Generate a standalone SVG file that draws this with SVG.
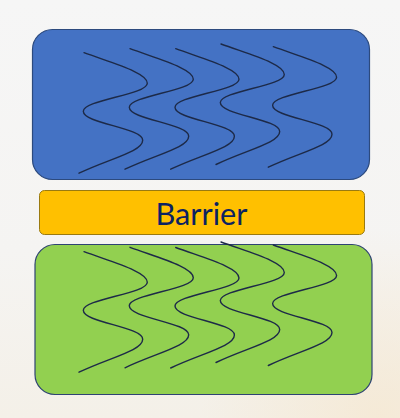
<svg xmlns="http://www.w3.org/2000/svg" xmlns:xlink="http://www.w3.org/1999/xlink" width="400" height="418" viewBox="0 0 400 418">
  <style>
    .wave { fill: none; stroke: #1d2a48; stroke-width: 1.4; stroke-linecap: round; }
    .label { font-family: "Lato", "Open Sans", "Liberation Sans", sans-serif; font-size: 30px; fill: #0b2262; }
  </style>
  <defs>
    <linearGradient id="bg" x1="0" y1="0" x2="0" y2="1">
      <stop offset="0" stop-color="#f6f6f6"/>
      <stop offset="0.6" stop-color="#f5f4f2"/>
      <stop offset="1" stop-color="#f4f0e8"/>
    </linearGradient>
    <radialGradient id="glow" cx="0.95" cy="1" r="0.45">
      <stop offset="0" stop-color="#f5e8d2" stop-opacity="0.8"/>
      <stop offset="1" stop-color="#f5e8d2" stop-opacity="0"/>
    </radialGradient>
    <path id="w" d="M0,0 C30,11 63.3,20 63.3,30.5 C63.3,42 -0.7,47 -0.7,58.5 C-0.7,71 58.7,75 58.7,87.5 C58.7,99 25,106 -5,120.5"/>
  </defs>
  <rect width="400" height="418" fill="url(#bg)"/>
  <rect width="400" height="418" fill="url(#glow)"/>

  <g id="top-region">
    <rect x="32.5" y="29.5" width="337" height="150" rx="20" fill="#4472c4" stroke="#2c4a7e" stroke-width="1.2"/>
  </g>
  <g id="barrier">
    <rect x="39.5" y="190.5" width="325" height="44" rx="5" fill="#ffc000" stroke="#9a7a10" stroke-width="1"/>
    <text class="label" x="201.5" y="224.7" text-anchor="middle" textLength="92" lengthAdjust="spacingAndGlyphs">Barrier</text>
  </g>
  <g id="bottom-region">
    <rect x="35" y="244.5" width="337" height="150" rx="20" fill="#92d050" stroke="#2e4372" stroke-width="1.2"/>
  </g>

  <g id="waves-top">
    <use xlink:href="#w" class="wave" x="84" y="52.7"/>
    <use xlink:href="#w" class="wave" x="130" y="48.7"/>
    <use xlink:href="#w" class="wave" x="175.7" y="48.7"/>
    <use xlink:href="#w" class="wave" x="221" y="44"/>
    <use xlink:href="#w" class="wave" x="273.3" y="46.7"/>
  </g>
  <g id="waves-bottom">
    <use xlink:href="#w" class="wave" x="84" y="251.7"/>
    <use xlink:href="#w" class="wave" x="130" y="247.3"/>
    <use xlink:href="#w" class="wave" x="175.7" y="247.5"/>
    <use xlink:href="#w" class="wave" x="221" y="242"/>
    <use xlink:href="#w" class="wave" x="273.3" y="245"/>
  </g>
</svg>
